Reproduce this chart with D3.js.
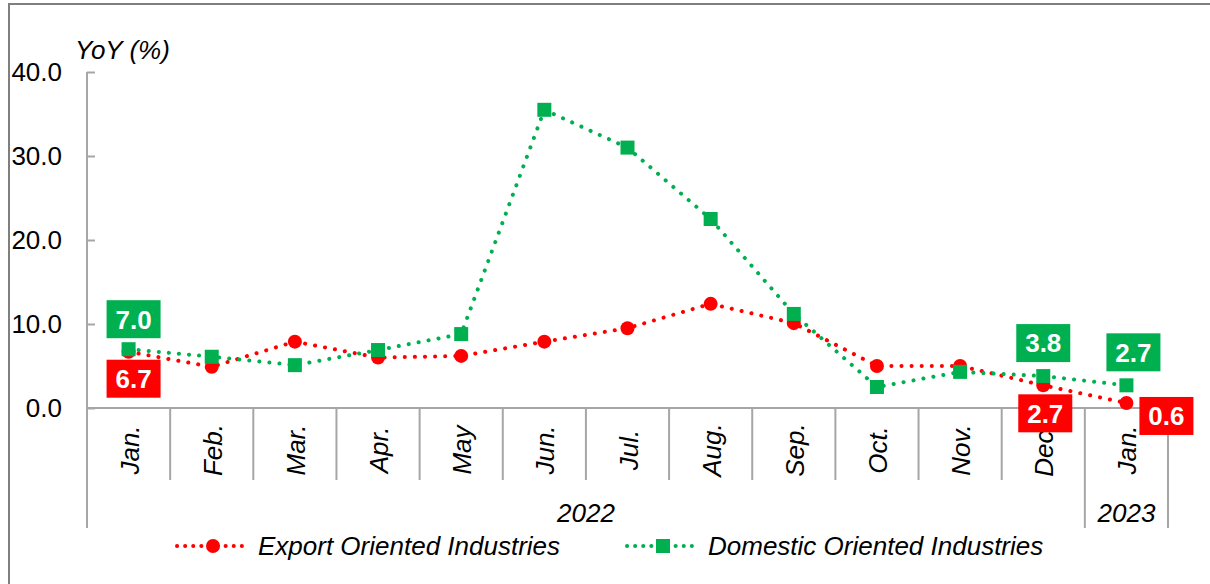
<!DOCTYPE html>
<html>
<head>
<meta charset="utf-8">
<script src="https://cdn.jsdelivr.net/npm/d3@7"></script>
<style>
  body { margin: 0; background: #fff; }
  svg { display: block; font-family: Arial, "Liberation Sans", sans-serif; }
</style>
</head>
<body>
<div id="chart"></div>
<script>
const months = ["Jan.", "Feb.", "Mar.", "Apr.", "May", "Jun.", "Jul.", "Aug.", "Sep.", "Oct.", "Nov.", "Dec.", "Jan."];
const years = [
  { label: "2022", from: 0, to: 12 },
  { label: "2023", from: 12, to: 13 }
];
const exportValues = [6.7, 4.9, 7.9, 6.0, 6.2, 7.9, 9.5, 12.4, 10.1, 5.0, 5.0, 2.7, 0.6];
const domesticValues = [7.0, 6.1, 5.1, 6.9, 8.8, 35.5, 31.0, 22.5, 11.2, 2.5, 4.3, 3.8, 2.7];
const yTicks = [0, 10, 20, 30, 40];

// which points get a value box, and where the box sits relative to the point
const exportLabels = [{ i: 0, dx: 5, dy: 27 }, { i: 11, dx: 2, dy: 28 }, { i: 12, dx: 40, dy: 13 }];
const domesticLabels = [{ i: 0, dx: 5, dy: -30 }, { i: 11, dx: 0, dy: -33 }, { i: 12, dx: 7, dy: -33 }];

const width = 1210, height = 584;
const red = "#ff0000", green = "#00b050", axisGray = "#a6a6a6";
const margin = { left: 87, right: 42, top: 72 };
const zeroY = 408;
const fontSize = 26;

const svg = d3.select("#chart").append("svg")
  .attr("width", width)
  .attr("height", height);

// outer frame (only left and top edges show)
svg.append("path")
  .attr("d", `M9,${height + 5}V4H${width + 5}`)
  .attr("fill", "none")
  .attr("stroke", "#7f7f7f")
  .attr("stroke-width", 2);

const x = d3.scaleBand()
  .domain(d3.range(months.length))
  .range([margin.left, width - margin.right])
  .paddingInner(0).paddingOuter(0);

const y = d3.scaleLinear()
  .domain([0, 40])
  .range([zeroY, margin.top]);

const cx = (i) => x(i) + x.bandwidth() / 2;

// y axis
const yAxis = svg.append("g")
  .attr("transform", `translate(${margin.left},0)`)
  .call(d3.axisRight(y).tickValues(yTicks).tickSize(8).tickFormat(""));
yAxis.select(".domain").attr("stroke", axisGray).attr("stroke-width", 2).attr("d", `M0,${y(40)}V${zeroY}`);
yAxis.selectAll(".tick line").attr("stroke", axisGray).attr("stroke-width", 2);

svg.append("g")
  .selectAll("text")
  .data(yTicks)
  .join("text")
  .attr("x", 62)
  .attr("y", (d) => y(d))
  .attr("dy", "0.36em")
  .attr("text-anchor", "end")
  .attr("font-size", fontSize)
  .attr("fill", "#000")
  .text((d) => d.toFixed(1));

svg.append("text")
  .attr("x", 75)
  .attr("y", 59)
  .attr("font-size", fontSize)
  .attr("font-style", "italic")
  .text("YoY (%)");

// category axis
svg.append("line")
  .attr("x1", margin.left).attr("x2", width - margin.right)
  .attr("y1", zeroY).attr("y2", zeroY)
  .attr("stroke", axisGray).attr("stroke-width", 2);

const boundaries = d3.range(months.length + 1);
const yearEdges = new Set(years.flatMap((d) => [d.from, d.to]));
svg.append("g")
  .selectAll("line")
  .data(boundaries)
  .join("line")
  .attr("x1", (d) => (d < months.length ? x(d) : x(d - 1) + x.bandwidth()))
  .attr("x2", (d) => (d < months.length ? x(d) : x(d - 1) + x.bandwidth()))
  .attr("y1", zeroY)
  .attr("y2", (d) => (yearEdges.has(d) ? 528 : 480))
  .attr("stroke", axisGray)
  .attr("stroke-width", 2);

svg.append("g")
  .selectAll("text")
  .data(months)
  .join("text")
  .attr("transform", (d, i) => `translate(${cx(i) + 10},450) rotate(-90)`)
  .attr("text-anchor", "middle")
  .attr("font-size", fontSize)
  .attr("font-style", "italic")
  .text((d) => d);

svg.append("g")
  .selectAll("text")
  .data(years)
  .join("text")
  .attr("x", (d) => (x(d.from) + x(d.to - 1) + x.bandwidth()) / 2)
  .attr("y", 522)
  .attr("text-anchor", "middle")
  .attr("font-size", fontSize)
  .attr("font-style", "italic")
  .text((d) => d.label);

// lines
const line = d3.line().x((d, i) => cx(i)).y((d) => y(d));

const drawSeries = (values, color, shape) => {
  svg.append("path")
    .datum(values)
    .attr("d", line)
    .attr("fill", "none")
    .attr("stroke", color)
    .attr("stroke-width", 4)
    .attr("stroke-linecap", "round")
    .attr("stroke-dasharray", "0.1 10");

  const g = svg.append("g").attr("fill", color);
  if (shape === "circle") {
    g.selectAll("circle")
      .data(values)
      .join("circle")
      .attr("cx", (d, i) => cx(i))
      .attr("cy", (d) => y(d))
      .attr("r", 7);
  } else {
    g.selectAll("rect")
      .data(values)
      .join("rect")
      .attr("x", (d, i) => cx(i) - 7)
      .attr("y", (d) => y(d) - 7)
      .attr("width", 14)
      .attr("height", 14);
  }
};

drawSeries(exportValues, red, "circle");
drawSeries(domesticValues, green, "square");

const drawLabels = (labels, values, color) => {
  const g = svg.append("g")
    .selectAll("g")
    .data(labels)
    .join("g")
    .attr("transform", (d) => `translate(${cx(d.i) + d.dx},${y(values[d.i]) + d.dy})`);
  g.append("rect")
    .attr("x", -27).attr("y", -19)
    .attr("width", 54).attr("height", 38)
    .attr("fill", color);
  g.append("text")
    .attr("text-anchor", "middle")
    .attr("dy", "0.36em")
    .attr("font-size", fontSize)
    .attr("font-weight", "bold")
    .attr("fill", "#fff")
    .text((d) => values[d.i].toFixed(1));
};

drawLabels(exportLabels, exportValues, red);
drawLabels(domesticLabels, domesticValues, green);

// legend
const legend = [
  { name: "Export Oriented Industries", color: red, shape: "circle", x: 177 },
  { name: "Domestic Oriented Industries", color: green, shape: "square", x: 627 }
];
const lg = svg.append("g")
  .selectAll("g")
  .data(legend)
  .join("g")
  .attr("transform", (d) => `translate(${d.x},546)`);
lg.append("line")
  .attr("x1", 0).attr("x2", 72)
  .attr("stroke", (d) => d.color)
  .attr("stroke-width", 4)
  .attr("stroke-linecap", "round")
  .attr("stroke-dasharray", "0.1 8");
lg.filter((d) => d.shape === "circle").append("circle")
  .attr("cx", 36).attr("r", 7).attr("fill", (d) => d.color);
lg.filter((d) => d.shape === "square").append("rect")
  .attr("x", 29).attr("y", -7).attr("width", 14).attr("height", 14).attr("fill", (d) => d.color);
lg.append("text")
  .attr("x", 81)
  .attr("dy", "0.36em")
  .attr("font-size", fontSize)
  .attr("font-style", "italic")
  .text((d) => d.name);
</script>
</body>
</html>
